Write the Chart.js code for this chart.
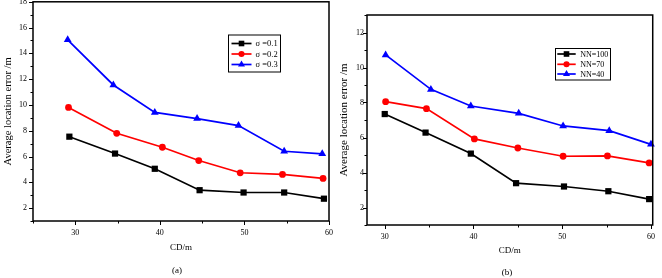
<!DOCTYPE html>
<html><head><meta charset="utf-8">
<script src="https://cdn.jsdelivr.net/npm/chart.js@4.4.0/dist/chart.umd.min.js"></script>
<style>
html,body{margin:0;padding:0;background:#fff;width:662px;height:278px;overflow:hidden;position:relative;font-family:"Liberation Serif",serif;}
#wa{position:absolute;left:0;top:-9px;width:340px;height:287px;}
#wb{position:absolute;left:335px;top:0;width:327px;height:278px;}
.cap{position:absolute;font-size:9px;line-height:10px;color:#000;transform:translateX(-50%);white-space:nowrap;}
</style></head><body>
<div id="wa"><canvas id="ca" width="340" height="287"></canvas></div>
<div id="wb"><canvas id="cb" width="327" height="278"></canvas></div>
<div class="cap" style="left:177px;top:265px">(a)</div>
<div class="cap" style="left:507px;top:267px">(b)</div>
<script>
// ---- Data: chart (a) ----
const labelsA = ['σ =0.1', 'σ =0.2', 'σ =0.3'];
const cdA1 = [29.3, 34.7, 39.4, 44.7, 49.9, 54.7, 59.4];
const errA1 = [7.54, 6.23, 5.05, 3.39, 3.21, 3.21, 2.73];
const cdA2 = [29.2, 34.9, 40.3, 44.6, 49.5, 54.5, 59.3];
const errA2 = [9.81, 7.80, 6.72, 5.69, 4.74, 4.61, 4.30];
const cdA3 = [29.1, 34.5, 39.4, 44.4, 49.3, 54.7, 59.2];
const errA3 = [15.05, 11.55, 9.42, 8.94, 8.40, 6.41, 6.21];
// ---- Data: chart (b) ----
const labelsB = ['NN=100', 'NN=70', 'NN=40'];
const cdB1 = [30.0, 34.6, 39.7, 44.8, 50.2, 55.2, 59.8];
const errB1 = [7.34, 6.28, 5.08, 3.39, 3.20, 2.93, 2.48];
const cdB2 = [30.1, 34.7, 40.1, 45.0, 50.1, 55.1, 59.8];
const errB2 = [8.05, 7.65, 5.92, 5.40, 4.93, 4.95, 4.55];
const cdB3 = [30.1, 35.2, 39.7, 45.1, 50.1, 55.3, 60.0];
const errB3 = [10.72, 8.75, 7.80, 7.38, 6.66, 6.39, 5.61];
// tick labels
const xTickLabels = [30, 40, 50, 60];
const yTickLabelsA = [2, 4, 6, 8, 10, 12, 14, 16, 18];
const yTickLabelsB = [2, 4, 6, 8, 10, 12];
const xTitle = 'CD/m';
const yTitle = 'Average location error /m';

const colors = ['#000000', '#ff0000', '#0000ff'];
const styles = ['rect', 'circle', 'triangle'];
const radii = [4.4, 3.4, 4.5];

function pts(xs, ys) { return xs.map((x, i) => ({x: x, y: ys[i]})); }
function mkDatasets(labels, xs, ys) {
  return labels.map((l, i) => ({
    label: l, data: pts(xs[i], ys[i]),
    borderColor: colors[i], backgroundColor: colors[i],
    borderWidth: 1.7, pointStyle: styles[i], pointRadius: radii[i],
    pointBorderWidth: 0, pointHoverRadius: radii[i], tension: 0, clip: false
  }));
}

const serif = '"Liberation Serif", "Times New Roman", serif';

const framePlugin = {
  id: 'frame',
  afterDraw(chart) {
    const {ctx, chartArea: a} = chart;
    ctx.save();
    ctx.strokeStyle = '#000'; ctx.lineWidth = 1.5;
    ctx.strokeRect(a.left, a.top, a.right - a.left, a.bottom - a.top);
    ctx.lineWidth = 1;
    const xs = chart.scales.x, ys = chart.scales.y;
    xs.ticks.forEach(t => {
      const p = Math.round(xs.getPixelForValue(t.value)) + 0.5;
      const len = (xTickLabels.includes(t.value)) ? 4 : 2.5;
      ctx.beginPath(); ctx.moveTo(p, a.bottom); ctx.lineTo(p, a.bottom + len); ctx.stroke();
    });
    const yl = chart.options.plugins.frame.yLabels;
    ys.ticks.forEach(t => {
      const p = Math.round(ys.getPixelForValue(t.value)) + 0.5;
      const len = (yl.includes(t.value)) ? 4 : 2.5;
      ctx.beginPath(); ctx.moveTo(a.left - len, p); ctx.lineTo(a.left, p); ctx.stroke();
    });
    ctx.restore();
  }
};

const boxLegendPlugin = {
  id: 'boxLegend',
  afterDraw(chart) {
    const o = chart.options.plugins.boxLegend;
    const ctx = chart.ctx;
    ctx.save();
    ctx.fillStyle = '#fff';
    ctx.fillRect(o.x, o.y, o.w, o.h);
    ctx.strokeStyle = '#000'; ctx.lineWidth = 1;
    ctx.strokeRect(o.x, o.y, o.w, o.h);
    chart.data.datasets.forEach((ds, i) => {
      const y = o.rows[i];
      ctx.strokeStyle = ds.borderColor; ctx.lineWidth = 1.7;
      ctx.beginPath(); ctx.moveTo(o.lx0, y); ctx.lineTo(o.lx1, y); ctx.stroke();
      ctx.fillStyle = ds.backgroundColor;
      Chart.helpers.drawPoint(ctx, {pointStyle: ds.pointStyle, radius: ds.pointRadius * 0.9, rotation: 0, borderWidth: 0}, (o.lx0 + o.lx1) / 2, y);
      ctx.fillStyle = '#000';
      ctx.font = o.font + 'px ' + serif;
      ctx.textBaseline = 'middle'; ctx.textAlign = 'left';
      ctx.fillText(ds.label, o.tx, y + 0.5);
    });
    ctx.restore();
  }
};

function mkOptions(cfg) {
  return {
    responsive: false, animation: false, events: [],
    layout: {padding: cfg.pad},
    plugins: {
      legend: {display: false}, tooltip: {enabled: false},
      frame: {yLabels: cfg.yLabels},
      boxLegend: cfg.legend
    },
    scales: {
      x: {
        type: 'linear', min: cfg.xmin, max: cfg.xmax,
        grid: {display: false, drawTicks: false}, border: {display: false},
        afterFit: s => { s.height = cfg.xh; },
        ticks: {stepSize: 5, includeBounds: false, autoSkip: false, maxRotation: 0, padding: 7,
          color: '#000', font: {family: serif, size: 8},
          callback: v => xTickLabels.includes(v) ? String(v) : ''},
        title: {display: true, text: xTitle, color: '#000', font: {family: serif, size: 9}, padding: {top: 4.5, bottom: 4.5}}
      },
      y: {
        type: 'linear', min: cfg.ymin, max: cfg.ymax,
        grid: {display: false, drawTicks: false}, border: {display: false},
        afterFit: s => { s.width = cfg.yw; },
        ticks: {stepSize: 1, autoSkip: false, padding: cfg.ypad,
          color: '#000', font: {family: serif, size: 8},
          callback: v => cfg.yLabels.includes(v) ? String(v) : ''},
        title: {display: true, text: yTitle, color: '#000', font: {family: serif, size: cfg.ytf}, padding: {top: cfg.ytp, bottom: 0}}
      }
    }
  };
}

new Chart(document.getElementById('ca'), {
  type: 'line',
  data: {datasets: mkDatasets(labelsA, [cdA1, cdA2, cdA3], [errA1, errA2, errA3])},
  options: mkOptions({
    pad: {left: 0, top: 10, right: 11, bottom: 20},
    xmin: 25, xmax: 60, ymin: 1, ymax: 18, xh: 37, yw: 33, ypad: 6, ytf: 10.5, ytp: 2,
    yLabels: yTickLabelsA,
    legend: {x: 228.5, y: 44, w: 52, h: 37, rows: [52.5, 63, 73.5], lx0: 231.5, lx1: 251.5, tx: 255.5, font: 8.5}
  }),
  plugins: [framePlugin, boxLegendPlugin]
});

new Chart(document.getElementById('cb'), {
  type: 'line',
  data: {datasets: mkDatasets(labelsB, [cdB1, cdB2, cdB3], [errB1, errB2, errB3])},
  options: mkOptions({
    pad: {left: 0, top: 15, right: 9, bottom: 17},
    xmin: 28, xmax: 60.2, ymin: 1, ymax: 13, xh: 36, yw: 32, ypad: 3, ytf: 11, ytp: 3,
    yLabels: yTickLabelsB,
    legend: {x: 220.5, y: 48.5, w: 55, h: 31.5, rows: [54, 64.3, 74], lx0: 222.3, lx1: 240.7, tx: 245.3, font: 8}
  }),
  plugins: [framePlugin, boxLegendPlugin]
});
</script>
</body></html>
